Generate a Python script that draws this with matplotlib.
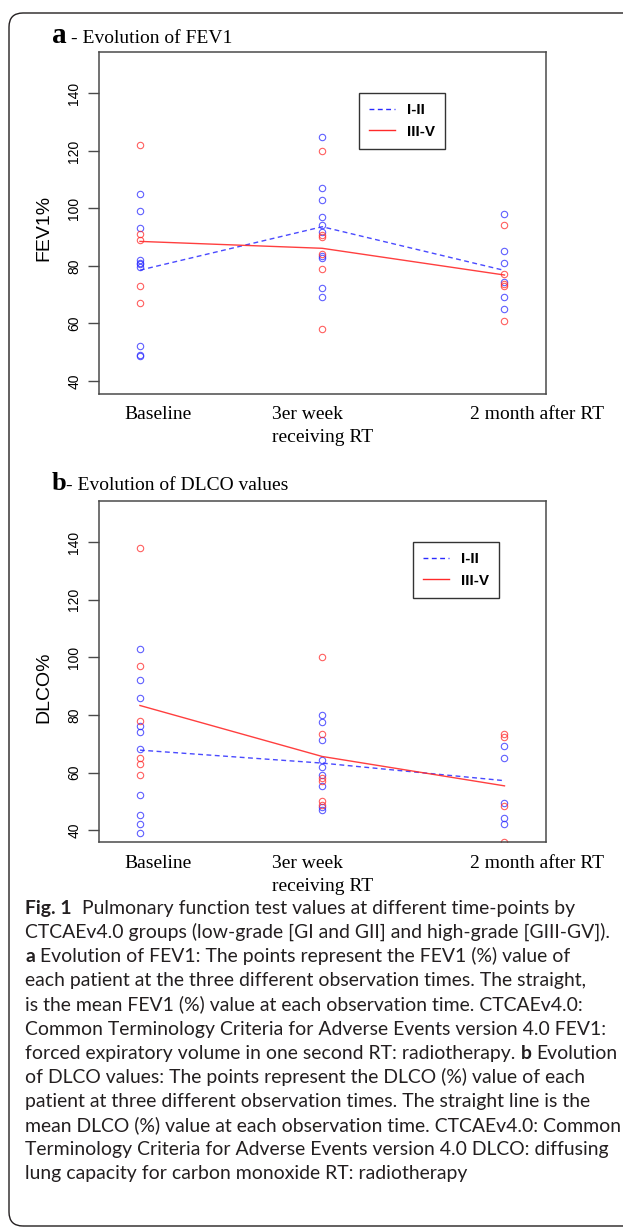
import matplotlib
matplotlib.use("Agg")
import matplotlib.pyplot as plt
from matplotlib.lines import Line2D
from matplotlib.patches import FancyBboxPatch

# ---------------- data ----------------
times = [1.0, 2.0, 3.0]
tick_pos = [1.1, 2.0, 3.18]
tick_labels = ["Baseline", "3er week\nreceiving RT", "2 month after RT"]
groups = ["I-II", "III-V"]
yticks = [40, 60, 80, 100, 120, 140]

# FEV1 (%) individual values, low grade (I-II)
fev1_low_baseline = [105, 99, 93, 82, 81, 80.5, 79.5, 52, 49, 48.5]
fev1_low_week3 = [125, 107, 103, 97, 94.3, 91.6, 83.4, 82.8, 72.2, 69]
fev1_low_month2 = [98, 85, 81, 74.3, 69, 65.1]
# FEV1 (%) individual values, high grade (III-V)
fev1_high_baseline = [122, 91, 89, 73, 67]
fev1_high_week3 = [120, 90.7, 90, 84.1, 78.9, 58]
fev1_high_month2 = [94.2, 77.3, 73.7, 73, 60.9]
# FEV1 means
fev1_low_mean = [78.5, 93.6, 78.4]
fev1_high_mean = [88.5, 86.1, 76.8]

# DLCO (%) individual values, low grade (I-II)
dlco_low_baseline = [103, 92, 86, 76.3, 74.2, 68.3, 52.3, 45.2, 42.2, 39.2]
dlco_low_week3 = [80, 77.4, 71.2, 64.4, 62.1, 59.2, 55.4, 48, 47.1]
dlco_low_month2 = [69.3, 65.2, 49.4, 44.2, 42.2]
# DLCO (%) individual values, high grade (III-V)
dlco_high_baseline = [138, 97, 78, 65.2, 63, 59]
dlco_high_week3 = [100, 73.4, 58, 57, 50.3, 48.8]
dlco_high_month2 = [73.3, 72.5, 48.5, 36]
# DLCO means
dlco_low_mean = [67.8, 63.3, 57.2]
dlco_high_mean = [83.3, 65.6, 55.4]

caption_lines = [
    [("Fig. 1", "bold"), ("  ", None), ("Pulmonary function test values at different time-points by", "normal")],
    [("CTCAEv4.0 groups (low-grade [GI and GII] and high-grade [GIII-GV]).", "normal")],
    [("a", "bold"), (" ", None), ("Evolution of FEV1: The points represent the FEV1 (%) value of", "normal")],
    [("each patient at the three different observation times. The straight,", "normal")],
    [("is the mean FEV1 (%) value at each observation time. CTCAEv4.0:", "normal")],
    [("Common Terminology Criteria for Adverse Events version 4.0 FEV1:", "normal")],
    [("forced expiratory volume in one second RT: radiotherapy.", "normal"), (" ", None), ("b", "bold"), (" ", None), ("Evolution", "normal")],
    [("of DLCO values: The points represent the DLCO (%) value of each", "normal")],
    [("patient at three different observation times. The straight line is the", "normal")],
    [("mean DLCO (%) value at each observation time. CTCAEv4.0: Common", "normal")],
    [("Terminology Criteria for Adverse Events version 4.0 DLCO: diffusing", "normal")],
    [("lung capacity for carbon monoxide RT: radiotherapy", "normal")],
]

# ---------------- style ----------------
W, H = 623, 1232
BLUE = "#2a2aff"
RED = "#ff2a2a"
SERIF = "Liberation Serif"
SANS = "Liberation Sans"
CAP_FONT = "Lato"
FRAME = "#4a4a4a"

fig = plt.figure(figsize=(W / 100, H / 100), dpi=100)
fig.patch.set_facecolor("white")

# outer rounded border
border = FancyBboxPatch((0.09 + 0.14, 0.06 + 0.14), 7.0, 12.19 - 0.06 - 0.28,
                        boxstyle="round,pad=0.14", transform=fig.dpi_scale_trans,
                        facecolor="none", edgecolor="#231f20", linewidth=1.0)
fig.add_artist(border)


def make_panel(rect, low_pts, high_pts, low_mean, high_mean, ylabel, ylim, legend_anchor, ylab_y):
    ax = fig.add_axes(rect)
    for t, vals in zip(times, low_pts):
        ax.plot([t] * len(vals), vals, linestyle="none", marker="o", markersize=4.6,
                markerfacecolor="none", markeredgecolor=BLUE, markeredgewidth=0.8, alpha=0.75)
    for t, vals in zip(times, high_pts):
        ax.plot([t] * len(vals), vals, linestyle="none", marker="o", markersize=4.6,
                markerfacecolor="none", markeredgecolor=RED, markeredgewidth=0.8, alpha=0.75)
    ax.plot(times, low_mean, color=BLUE, linewidth=1.0, linestyle=(0, (3.5, 2.5)), alpha=0.85)
    ax.plot(times, high_mean, color=RED, linewidth=1.0, linestyle="-", alpha=0.9)
    ax.set_xlim(0.777, 3.226)
    ax.set_ylim(*ylim)
    ax.set_yticks(yticks)
    ax.set_yticklabels([str(v) for v in yticks])
    ax.set_xticks(tick_pos)
    ax.set_xticklabels(tick_labels)
    for s in ax.spines.values():
        s.set_color(FRAME)
        s.set_linewidth(1.1)
    ax.tick_params(axis="x", length=0, pad=9, labelsize=14)
    ax.tick_params(axis="y", length=8, width=1.0, color=FRAME, pad=5, labelsize=10, labelrotation=90)
    for lab in ax.get_xticklabels():
        lab.set_fontfamily(SERIF)
        lab.set_multialignment("left")
        lab.set_linespacing(1.45)
    for lab in ax.get_yticklabels():
        lab.set_fontfamily(SANS)
        lab.set_va("center")
    ax.set_ylabel(ylabel, fontsize=14, fontfamily=SANS)
    ax.yaxis.set_label_coords(-0.105, ylab_y)
    handles = [Line2D([], [], color=BLUE, linewidth=1.0, linestyle=(0, (3.5, 2.5))),
               Line2D([], [], color=RED, linewidth=1.0)]
    leg = ax.legend(handles, groups, loc="upper left", bbox_to_anchor=legend_anchor,
                    prop={"family": SANS, "size": 11, "weight": "bold"}, frameon=True, fancybox=False,
                    framealpha=1, edgecolor="#333333", borderpad=0.65, handlelength=1.7,
                    handletextpad=0.8, labelspacing=0.5, borderaxespad=0)
    leg.get_frame().set_linewidth(1.0)
    return ax


ax1 = make_panel([0.1594, 0.6802, 0.7165, 0.2778],
                 [fev1_low_baseline, fev1_low_week3, fev1_low_month2],
                 [fev1_high_baseline, fev1_high_week3, fev1_high_month2],
                 fev1_low_mean, fev1_high_mean, "FEV1%", (35.4, 154.5), (0.581, 0.879), 0.485)
ax2 = make_panel([0.1594, 0.3163, 0.7165, 0.2773],
                 [dlco_low_baseline, dlco_low_week3, dlco_low_month2],
                 [dlco_high_baseline, dlco_high_week3, dlco_high_month2],
                 dlco_low_mean, dlco_high_mean, "DLCO%", (35.8, 154.4), (0.703, 0.879), 0.453)

renderer = fig.canvas.get_renderer()


def place_segments(segments, x_px, base_px, size, family, color, space_px):
    x = x_px
    for text, weight, fs in segments:
        if weight is None:
            x += space_px * len(text)
            continue
        t = fig.text(x / W, 1 - base_px / H, text, fontsize=fs if fs else size,
                     fontweight=weight, fontfamily=family, color=color,
                     ha="left", va="baseline")
        bb = t.get_window_extent(renderer)
        x = bb.x1
    return x


# panel titles
place_segments([("a", "bold", 21), (" ", None, None), ("- Evolution of FEV1", "normal", 14)],
               51.7, 43.3, 14, SERIF, "black", 5)
place_segments([("b", "bold", 19), ("- Evolution of DLCO values", "normal", 14)],
               51.7, 490, 14, SERIF, "black", 5)

# caption: fit font size so the longest line spans ~593 px
probe = fig.text(0, 0, caption_lines[9][0][0], fontsize=13, fontfamily=CAP_FONT)
pw = probe.get_window_extent(renderer).width
probe.remove()
cap_size = 13 * 593 / pw
space = cap_size * 100 / 72 * 0.26
for i, line in enumerate(caption_lines):
    segs = [(txt, w, None) for txt, w in line]
    place_segments(segs, 25, 914 + 24.1 * i, cap_size, CAP_FONT, "#231f20", space)

fig.savefig("out.png", dpi=100, facecolor="white")
